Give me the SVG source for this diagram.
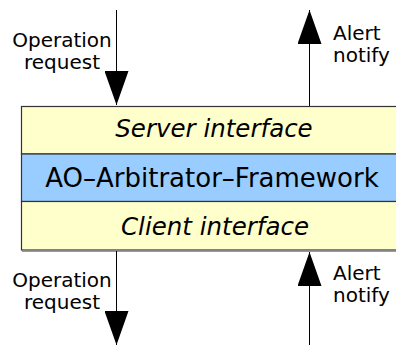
<svg xmlns="http://www.w3.org/2000/svg" width="396" height="345" viewBox="0 0 396 345">
<style>
.lbl{font-family:"DejaVu Sans",Verdana,sans-serif;font-size:20px;fill:#000}
.it{font-family:"DejaVu Sans",Verdana,sans-serif;font-size:24.5px;font-style:italic;fill:#000;text-anchor:middle}
.main{font-family:"DejaVu Sans",Verdana,sans-serif;font-size:26px;fill:#000;text-anchor:middle}
.band{stroke:#333;stroke-width:1.2}
.conn{stroke:#000;stroke-width:1;fill:none;marker-end:url(#ah)}
</style>
<defs>
<marker id="ah" viewBox="0 0 34 24" refX="34" refY="12" markerWidth="34" markerHeight="24" markerUnits="userSpaceOnUse" orient="auto">
<path d="M0,0 L34,12 L0,24 z" fill="#000"/>
</marker>
</defs>
<g id="stack">
<line x1="22" y1="251.5" x2="405" y2="251.5" stroke="#999" stroke-width="1"/>
<g id="server">
<rect class="band" x="21.5" y="106.5" width="384" height="47.5" fill="#FFFFCC"/>
<text class="it" x="214" y="137">Server interface</text>
</g>
<g id="framework">
<rect class="band" x="21.5" y="154" width="384" height="47.5" fill="#99CCFF"/>
<text class="main" x="212" y="187">AO–Arbitrator–Framework</text>
</g>
<g id="client">
<rect class="band" x="21.5" y="201.5" width="384" height="48.5" fill="#FFFFCC"/>
<text class="it" x="215" y="235">Client interface</text>
</g>
</g>
<g id="connectors">
<line class="conn" x1="116.5" y1="10" x2="116.5" y2="105"/>
<line class="conn" x1="309.5" y1="106" x2="309.5" y2="10"/>
<line class="conn" x1="116.5" y1="251" x2="116.5" y2="345"/>
<line class="conn" x1="309.5" y1="345" x2="309.5" y2="252"/>
</g>
<g id="labels">
<text class="lbl" x="62" y="47" text-anchor="middle">Operation</text>
<text class="lbl" x="62" y="69" text-anchor="middle">request</text>
<text class="lbl" x="333" y="40">Alert</text>
<text class="lbl" x="333" y="62">notify</text>
<text class="lbl" x="62" y="287" text-anchor="middle">Operation</text>
<text class="lbl" x="62" y="309" text-anchor="middle">request</text>
<text class="lbl" x="333" y="280">Alert</text>
<text class="lbl" x="333" y="302">notify</text>
</g>
</svg>
